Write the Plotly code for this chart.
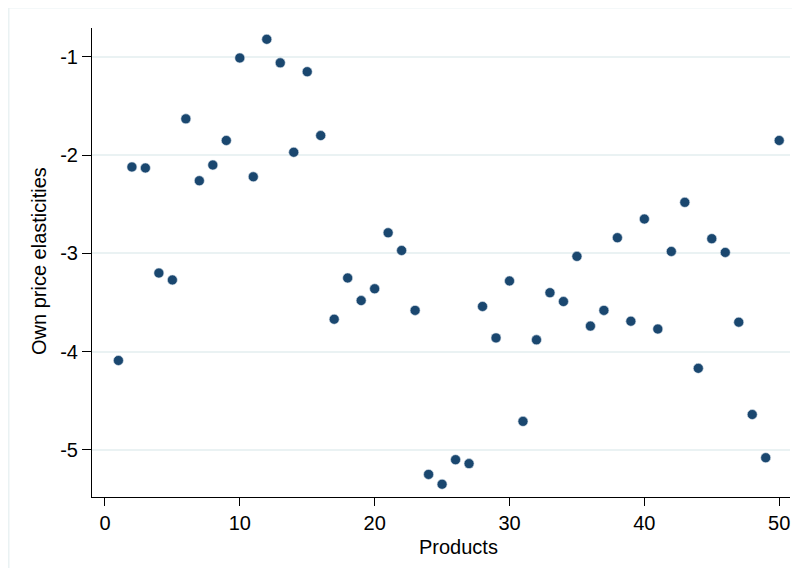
import plotly.graph_objects as go

products = list(range(1, 51))
elasticities = [
    -4.09, -2.12, -2.13, -3.20, -3.27, -1.63, -2.26, -2.10, -1.85, -1.01,
    -2.22, -0.82, -1.06, -1.97, -1.15, -1.80, -3.67, -3.25, -3.48, -3.36,
    -2.79, -2.97, -3.58, -5.25, -5.35, -5.10, -5.14, -3.54, -3.86, -3.28,
    -4.71, -3.88, -3.40, -3.49, -3.03, -3.74, -3.58, -2.84, -3.69, -2.65,
    -3.77, -2.98, -2.48, -4.17, -2.85, -2.99, -3.70, -4.64, -5.08, -1.85,
]
x_ticks = [0, 10, 20, 30, 40, 50]
y_ticks = [-1, -2, -3, -4, -5]
x_title = "Products"
y_title = "Own price elasticities"

# the page body adds an 8px margin, so the figure is 8px smaller each way
W, H = 792, 560
L, R, T, B = 84, 10, 20, 71
pw, ph = W - L - R, H - T - B


def px_x(x):
    return (x - L) / pw


def px_y(y):
    return 1 - (y - T) / ph


fig = go.Figure()
fig.add_trace(go.Scatter(
    x=products, y=elasticities, mode="markers",
    marker=dict(color="#1a476f", size=10, line=dict(color="#dde6ee", width=0.6)),
    hoverinfo="x+y", showlegend=False,
))

font = dict(family="Liberation Sans, Arial, sans-serif", size=20, color="#000000")

fig.update_layout(
    width=W, height=H,
    margin=dict(l=L, r=R, t=T, b=B, pad=0),
    paper_bgcolor="#ffffff", plot_bgcolor="#ffffff",
    font=font,
    xaxis=dict(
        range=[-0.96, 50.8], tickvals=x_ticks, ticktext=[str(v) for v in x_ticks],
        showgrid=False, zeroline=False, showline=True, linecolor="#000000", linewidth=1,
        ticks="outside", ticklen=8, tickcolor="#000000", tickwidth=1,
        tickfont=font, automargin=False,
    ),
    yaxis=dict(
        range=[-5.48, -0.705], tickvals=y_ticks, ticktext=[str(v) for v in y_ticks],
        showgrid=True, gridcolor="#eaf2f3", gridwidth=2,
        zeroline=False, showline=True, linecolor="#000000", linewidth=1,
        ticks="outside", ticklen=9, tickcolor="#000000", tickwidth=1,
        tickfont=font, automargin=False,
    ),
    annotations=[
        dict(text=x_title, xref="paper", yref="paper", x=px_x(451), y=px_y(539),
             xanchor="center", yanchor="middle", showarrow=False, font=font),
        dict(text=y_title, xref="paper", yref="paper", x=px_x(31), y=px_y(253),
             xanchor="center", yanchor="middle", showarrow=False, font=font, textangle=-90),
    ],
    shapes=[
        dict(type="rect", xref="paper", yref="paper",
             x0=px_x(0.5), x1=px_x(W + 10),
             y0=px_y(H + 10), y1=px_y(-0.5),
             line=dict(color="#eaf2f3", width=2), fillcolor="rgba(0,0,0,0)", layer="below"),
    ],
)

fig.write_html("out.html")
